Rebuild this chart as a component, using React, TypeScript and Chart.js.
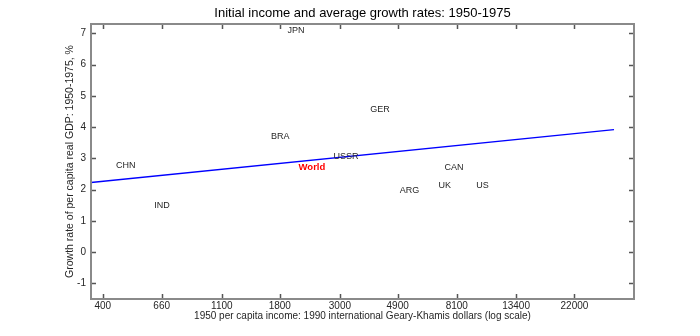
import React, { useEffect, useRef } from 'react';
import { Chart, registerables } from 'chart.js';
Chart.register(...registerables);

const countries = ['CHN', 'IND', 'JPN', 'BRA', 'USSR', 'World', 'GER', 'ARG', 'UK', 'CAN', 'US'];
const income1950 = [448, 619, 1921, 1672, 2841, 2111, 3881, 4987, 6939, 7291, 9561];
const growthRate = [2.76, 1.49, 7.08, 3.69, 3.07, 2.70, 4.55, 1.97, 2.14, 2.72, 2.14];
const fitIncome = [362, 30800];
const fitGrowth = [2.23, 3.92];
const xTickLabels = [400, 660, 1100, 1800, 3000, 4900, 8100, 13400, 22000];
const yTickLabels = [-1, 0, 1, 2, 3, 4, 5, 6, 7];

const FONT = '"Liberation Sans", Arial, Helvetica, sans-serif';
const NARROW = '"Liberation Sans Narrow", "Arial Narrow", "Liberation Sans", sans-serif';

const labelPlugin = {
  id: 'countryLabels',
  afterDatasetsDraw(chart: any) {
    const meta = chart.getDatasetMeta(0);
    const ctx = chart.ctx;
    ctx.save();
    ctx.textAlign = 'left';
    ctx.textBaseline = 'middle';
    meta.data.forEach((pt: any, i: number) => {
      const name = countries[i];
      if (name === 'World') {
        ctx.font = `bold 9.5px ${FONT}`;
        ctx.fillStyle = '#ff0000';
      } else {
        ctx.font = `9px ${FONT}`;
        ctx.fillStyle = '#262626';
      }
      ctx.fillText(name, pt.x, pt.y);
    });
    ctx.restore();
  },
};

const framePlugin = {
  id: 'frame',
  afterDraw(chart: any) {
    const { ctx, chartArea } = chart;
    const { left, right, top, bottom } = chartArea;
    const xs = chart.scales.x;
    const ys = chart.scales.y;
    ctx.save();
    ctx.strokeStyle = '#555555';
    ctx.lineWidth = 1.5;
    const tl = 5;
    ctx.beginPath();
    xTickLabels.forEach((v) => {
      const px = Math.round(xs.getPixelForValue(v)) + 0.5;
      ctx.moveTo(px, bottom);
      ctx.lineTo(px, bottom - tl);
      ctx.moveTo(px, top);
      ctx.lineTo(px, top + tl);
    });
    yTickLabels.forEach((v) => {
      const py = Math.round(ys.getPixelForValue(v)) + 0.5;
      ctx.moveTo(left, py);
      ctx.lineTo(left + tl, py);
      ctx.moveTo(right, py);
      ctx.lineTo(right - tl, py);
    });
    ctx.stroke();
    ctx.strokeStyle = '#8a8a8a';
    ctx.lineWidth = 2;
    ctx.strokeRect(left, top, right - left, bottom - top);
    ctx.restore();
  },
};

export default function App() {
  const ref = useRef<HTMLCanvasElement | null>(null);
  useEffect(() => {
    if (!ref.current) return;
    Chart.defaults.font.family = FONT;
    const chart = new Chart(ref.current, {
      type: 'scatter',
      data: {
        datasets: [
          {
            label: 'Countries',
            data: income1950.map((x, i) => ({ x, y: growthRate[i] })),
            pointRadius: 0,
            pointHoverRadius: 0,
            showLine: false,
          },
          {
            label: 'Fit',
            type: 'line',
            data: fitIncome.map((x, i) => ({ x, y: fitGrowth[i] })),
            borderColor: '#0000ff',
            borderWidth: 1.5,
            pointRadius: 0,
            fill: false,
          } as any,
        ],
      },
      options: {
        animation: false,
        responsive: false,
        layout: { padding: { left: 0, right: 66, top: 0, bottom: 0 } },
        plugins: {
          legend: { display: false },
          tooltip: { enabled: false },
          title: {
            display: true,
            text: 'Initial income and average growth rates: 1950-1975',
            fullSize: false,
            color: '#000000',
            font: { size: 13, weight: 'normal', family: FONT },
            padding: { top: 5.5, bottom: 2.9 },
          },
        },
        scales: {
          x: {
            type: 'logarithmic',
            min: 362,
            max: 36500,
            afterBuildTicks: (s: any) => {
              s.ticks = xTickLabels.map((v) => ({ value: v }));
            },
            afterFit: (s: any) => {
              s.height = 37;
            },
            ticks: {
              autoSkip: false,
              maxRotation: 0,
              padding: 1,
              color: '#262626',
              font: { size: 10, family: NARROW },
              callback: (v: any) => String(v),
            },
            grid: { display: false, drawTicks: false },
            border: { display: false },
            title: {
              display: true,
              text: '1950 per capita income: 1990 international Geary-Khamis dollars (log scale)',
              color: '#262626',
              font: { size: 10 },
              padding: { top: 0, bottom: 13.5 },
            },
          },
          y: {
            type: 'linear',
            min: -1.5,
            max: 7.3,
            afterBuildTicks: (s: any) => {
              s.ticks = yTickLabels.map((v) => ({ value: v }));
            },
            afterFit: (s: any) => {
              s.width = 91;
            },
            ticks: {
              padding: 5,
              color: '#262626',
              font: { size: 10, family: NARROW },
              callback: (v: any) => String(v),
            },
            grid: { display: false, drawTicks: false },
            border: { display: false },
            title: {
              display: true,
              text: 'Growth rate of per capita real GDP: 1950-1975, %',
              color: '#262626',
              font: { size: 10.5 },
              padding: { top: 63.5, bottom: 0 },
            },
          },
        },
      },
      plugins: [labelPlugin, framePlugin],
    } as any);
    return () => chart.destroy();
  }, []);
  return (
    <div style={{ position: 'absolute', left: 0, top: 0, width: 700, height: 336, background: '#ffffff' }}>
      <canvas ref={ref} width={700} height={336} />
    </div>
  );
}
